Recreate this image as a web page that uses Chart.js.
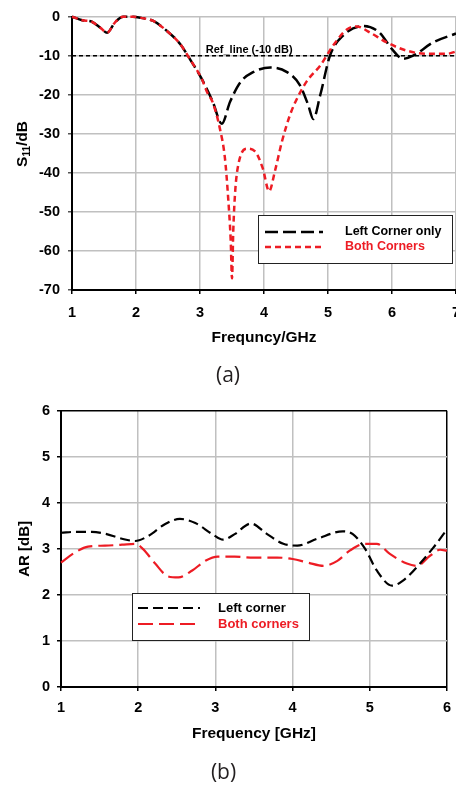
<!DOCTYPE html>
<html>
<head>
<meta charset="utf-8">
<script src="https://cdn.jsdelivr.net/npm/chart.js@4.4.1/dist/chart.umd.min.js"></script>
<style>
html, body { margin: 0; padding: 0; background: #fff; overflow: hidden; }
#wrap { position: relative; width: 456px; height: 787px; overflow: hidden; background: #fff; }
#chartA { position: absolute; left: 0; top: 0; }
#chartB { position: absolute; left: 0; top: 395px; }
</style>
</head>
<body>
<div id="wrap">
  <canvas id="chartA" width="472" height="395"></canvas>
  <canvas id="chartB" width="470" height="392"></canvas>
</div>
<script>
// ---- (a) S11 vs frequency ----
const freqLeftA = [1.0, 1.16, 1.31, 1.44, 1.55, 1.67, 1.8, 1.95, 2.08, 2.27, 2.48, 2.69, 2.84, 3.03, 3.2, 3.34, 3.47, 3.63, 3.83, 4.1, 4.36, 4.56, 4.69, 4.77, 4.88, 5.03, 5.23, 5.55, 5.8, 6.0, 6.17, 6.33, 6.64, 7.0];
const s11Left   = [0, -0.9, -1.3, -2.8, -4.1, -1.5, 0, 0, -0.3, -1.1, -3.6, -7, -10.8, -16, -21.8, -27.4, -21.8, -16.8, -14.2, -13, -14.2, -17.5, -22.6, -26.2, -20, -10, -4.9, -2.4, -4, -8.3, -10.8, -10, -6.6, -4.3];
const freqBothA = [1.0, 1.16, 1.31, 1.44, 1.55, 1.67, 1.8, 1.95, 2.08, 2.27, 2.48, 2.69, 2.84, 3.03, 3.11, 3.2, 3.31, 3.39, 3.44, 3.48, 3.5, 3.52, 3.55, 3.6, 3.73, 3.86, 3.98, 4.08, 4.17, 4.28, 4.41, 4.53, 4.67, 4.88, 5.08, 5.3, 5.45, 5.66, 5.92, 6.23, 6.55, 6.86, 7.0];
const s11Both   = [0, -0.9, -1.3, -2.8, -4.1, -1.5, 0, 0, -0.3, -1.1, -3.6, -7, -10.8, -16, -19.3, -22, -28.6, -36.3, -46.4, -57.4, -67, -54.8, -44.7, -37.8, -33.8, -34.5, -38.8, -44.7, -39.6, -32, -25, -20.5, -16.5, -12.5, -7.4, -3.2, -2.5, -4.1, -6.6, -8.7, -9.5, -9.5, -8.9];
const refFreq = [1, 7];
const refLevel = [-10, -10];
const namesA = ['Left Corner only', 'Both Corners'];

// ---- (b) AR vs frequency ----
const freqLeftB = [1.0, 1.2, 1.4, 1.57, 1.79, 1.96, 2.13, 2.35, 2.54, 2.74, 2.96, 3.1, 3.25, 3.46, 3.67, 3.88, 4.06, 4.32, 4.65, 4.78, 4.94, 5.09, 5.29, 5.43, 5.65, 5.82, 6.0];
const arLeft    = [3.35, 3.37, 3.37, 3.33, 3.22, 3.17, 3.28, 3.54, 3.65, 3.56, 3.32, 3.2, 3.32, 3.55, 3.32, 3.11, 3.07, 3.22, 3.38, 3.32, 3.0, 2.53, 2.2, 2.31, 2.68, 3.02, 3.42];
const freqBothB = [1.0, 1.18, 1.35, 1.57, 1.79, 1.96, 2.06, 2.22, 2.39, 2.52, 2.7, 2.87, 3.03, 3.25, 3.49, 3.8, 4.0, 4.2, 4.4, 4.58, 4.74, 4.94, 5.09, 5.26, 5.48, 5.61, 5.78, 5.91, 6.0];
const arBoth    = [2.7, 2.92, 3.05, 3.07, 3.09, 3.11, 3.0, 2.68, 2.4, 2.38, 2.53, 2.74, 2.83, 2.83, 2.81, 2.81, 2.78, 2.7, 2.63, 2.74, 2.96, 3.11, 3.11, 2.89, 2.68, 2.63, 2.85, 2.98, 2.96];
const namesB = ['Left corner', 'Both corners'];

const RED = '#ed1c24';
const FONT = '"Liberation Sans", Arial, sans-serif';

function toPoints(xs, ys) {
    return xs.map((x, i) => ({ x: x, y: ys[i] }));
}

// legend drawn inside the plot, white box with border
function boxLegend(box, lineX, textX, rowY, fontSize) {
    return {
        id: 'boxLegend',
        afterDatasetsDraw(chart) {
            const ctx = chart.ctx;
            ctx.save();
            ctx.fillStyle = '#fff';
            ctx.fillRect(box.x, box.y, box.w, box.h);
            ctx.strokeStyle = '#222';
            ctx.lineWidth = 1;
            ctx.strokeRect(box.x + 0.5, box.y + 0.5, box.w, box.h);
            rowY.forEach((y, i) => {
                const ds = chart.data.datasets[i];
                ctx.setLineDash(ds.borderDash);
                ctx.strokeStyle = ds.borderColor;
                ctx.lineWidth = ds.borderWidth;
                ctx.beginPath();
                ctx.moveTo(lineX[0], y);
                ctx.lineTo(lineX[1], y);
                ctx.stroke();
                ctx.setLineDash([]);
                ctx.fillStyle = ds.borderColor;
                ctx.font = 'bold ' + fontSize + 'px ' + FONT;
                ctx.textAlign = 'left';
                ctx.textBaseline = 'middle';
                ctx.fillText(ds.label, textX, y);
            });
            ctx.restore();
        }
    };
}

// S11/dB with subscript, rotated
const s11Title = {
    id: 's11Title',
    afterDraw(chart) {
        const ctx = chart.ctx;
        const parts = [['S', 15.5, 0], ['11', 10, 4], ['/dB', 15.5, 0]];
        ctx.save();
        ctx.translate(23, 144);
        ctx.rotate(-Math.PI / 2);
        ctx.fillStyle = '#000';
        ctx.textBaseline = 'middle';
        ctx.textAlign = 'left';
        let total = 0;
        parts.forEach(p => { ctx.font = 'bold ' + p[1] + 'px ' + FONT; total += ctx.measureText(p[0]).width; });
        let cx = -total / 2;
        parts.forEach(p => {
            ctx.font = 'bold ' + p[1] + 'px ' + FONT;
            ctx.fillText(p[0], cx, p[2]);
            cx += ctx.measureText(p[0]).width;
        });
        ctx.restore();
    }
};

const refLabel = {
    id: 'refLabel',
    afterDatasetsDraw(chart) {
        const ctx = chart.ctx;
        const x = chart.scales.x.getPixelForValue(3.09);
        const y = chart.scales.y.getPixelForValue(-8.6);
        ctx.save();
        ctx.font = 'bold 11px ' + FONT;
        ctx.fillStyle = '#000';
        ctx.textAlign = 'left';
        ctx.textBaseline = 'middle';
        ctx.fillText('Ref_line (-10 dB)', x, y);
        ctx.restore();
    }
};

const ctxA = document.getElementById('chartA').getContext('2d');
new Chart(ctxA, {
    type: 'line',
    data: {
        datasets: [{
            label: namesA[0],
            data: toPoints(freqLeftA, s11Left),
            borderColor: '#000',
            borderWidth: 2.5,
            borderDash: [13, 5],
            pointRadius: 0,
            cubicInterpolationMode: 'monotone',
            clip: false,
            order: 2
        }, {
            label: namesA[1],
            data: toPoints(freqBothA, s11Both),
            borderColor: RED,
            borderWidth: 2.5,
            borderDash: [6, 4],
            pointRadius: 0,
            cubicInterpolationMode: 'monotone',
            clip: false,
            order: 1
        }, {
            label: 'Ref_line',
            data: toPoints(refFreq, refLevel),
            borderColor: '#000',
            borderWidth: 1.5,
            borderDash: [4, 3],
            pointRadius: 0,
            order: 3
        }]
    },
    options: {
        responsive: false,
        animation: false,
        layout: { padding: { top: 14, left: 0, right: 16, bottom: 0 } },
        plugins: {
            legend: { display: false },
            tooltip: { enabled: false },
            title: {
                display: true,
                text: '(a)',
                position: 'bottom',
                color: '#231f20',
                font: { family: '"Open Sans", sans-serif', size: 21, weight: 'normal' },
                padding: { top: 0, bottom: 6 }
            }
        },
        scales: {
            x: {
                type: 'linear',
                min: 1,
                max: 7,
                afterFit: s => { s.height = 73.8; },
                ticks: { stepSize: 1, color: '#000', padding: 10, font: { family: FONT, size: 14.5, weight: 'bold' } },
                grid: { color: '#c0c0c0', lineWidth: 1.5, tickLength: 4, tickColor: '#000' },
                border: { color: '#000', width: 2 },
                title: { display: true, text: 'Frequncy/GHz', color: '#000', padding: { top: 0, bottom: 16.5 }, font: { family: FONT, size: 15.5, weight: 'bold' } }
            },
            y: {
                min: -70,
                max: 0,
                afterFit: s => { s.width = 72; },
                ticks: { stepSize: 10, color: '#000', padding: 8, font: { family: FONT, size: 14.5, weight: 'bold' } },
                grid: { color: '#c0c0c0', lineWidth: 1.5, tickLength: 4, tickColor: '#555' },
                border: { color: '#000', width: 2 }
            }
        }
    },
    plugins: [boxLegend({ x: 258, y: 215, w: 194, h: 48 }, [265, 323], 345, [232, 247], 12.5), s11Title, refLabel]
});

const ctxB = document.getElementById('chartB').getContext('2d');
const edgeGrid = max => (c => (c.tick && c.tick.value === max) ? '#000' : '#c0c0c0');
new Chart(ctxB, {
    type: 'line',
    data: {
        datasets: [{
            label: namesB[0],
            data: toPoints(freqLeftB, arLeft),
            borderColor: '#000',
            borderWidth: 2.2,
            borderDash: [10, 5],
            pointRadius: 0,
            cubicInterpolationMode: 'monotone',
            clip: false
        }, {
            label: namesB[1],
            data: toPoints(freqBothB, arBoth),
            borderColor: RED,
            borderWidth: 2.2,
            borderDash: [15, 6],
            pointRadius: 0,
            cubicInterpolationMode: 'monotone',
            clip: false
        }]
    },
    options: {
        responsive: false,
        animation: false,
        layout: { padding: { top: 14, left: 0, right: 23, bottom: 0 } },
        plugins: {
            legend: { display: false },
            tooltip: { enabled: false },
            title: {
                display: true,
                text: '(b)',
                position: 'bottom',
                color: '#231f20',
                font: { family: '"Open Sans", sans-serif', size: 21, weight: 'normal' },
                padding: { top: 0, bottom: 1.4 }
            }
        },
        scales: {
            x: {
                type: 'linear',
                min: 1,
                max: 6,
                afterFit: s => { s.height = 73.4; },
                ticks: { stepSize: 1, color: '#000', padding: 8, font: { family: FONT, size: 14.5, weight: 'bold' } },
                grid: { color: edgeGrid(6), lineWidth: 1.5, tickLength: 4, tickColor: '#000' },
                border: { color: '#000', width: 2 },
                title: { display: true, text: 'Frequency [GHz]', color: '#000', padding: { top: 0, bottom: 17 }, font: { family: FONT, size: 15.5, weight: 'bold' } }
            },
            y: {
                min: 0,
                max: 6,
                afterFit: s => { s.width = 61; },
                ticks: { stepSize: 1, color: '#000', padding: 7, font: { family: FONT, size: 14.5, weight: 'bold' } },
                grid: { color: edgeGrid(6), lineWidth: 1.5, tickLength: 4, tickColor: '#000' },
                border: { color: '#000', width: 2 },
                title: { display: true, text: 'AR [dB]', color: '#000', padding: { top: 16, bottom: 0 }, font: { family: FONT, size: 15, weight: 'bold' } }
            }
        }
    },
    plugins: [boxLegend({ x: 132, y: 198, w: 177, h: 47 }, [138, 200], 218, [213, 229], 13)]
});
</script>
</body>
</html>
